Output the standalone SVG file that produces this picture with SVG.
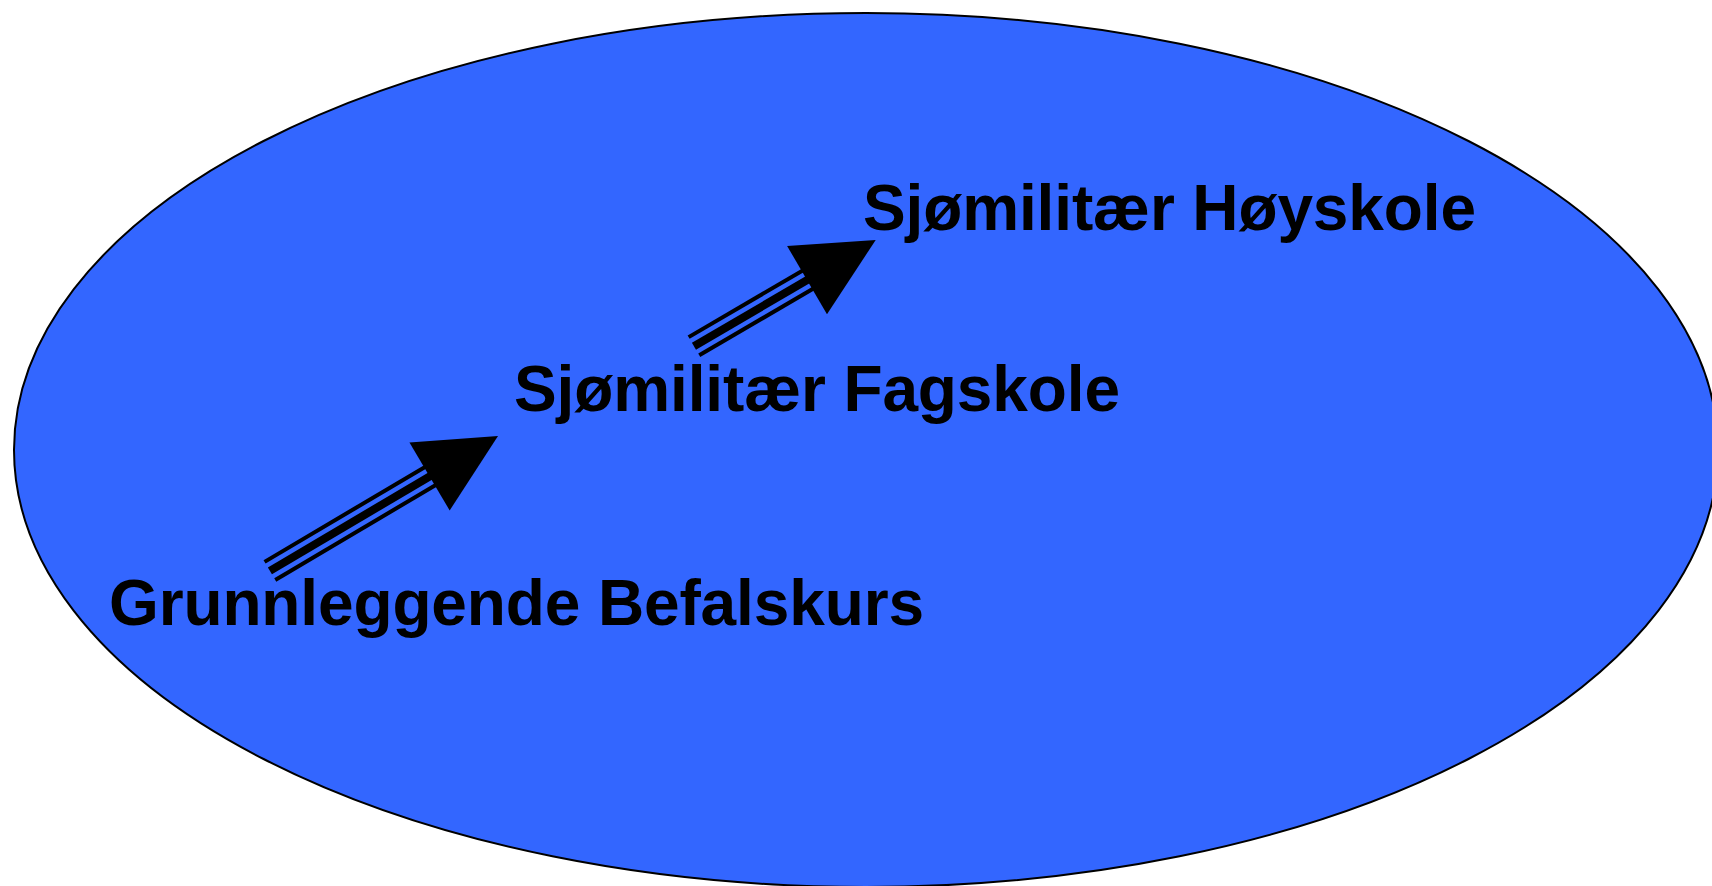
<svg xmlns="http://www.w3.org/2000/svg" width="1712" height="886" viewBox="0 0 1712 886">
<style>
.lbl{font-family:"Liberation Sans",Arial,sans-serif;font-weight:bold;font-size:64px;fill:#000}
.thin{stroke:#000;stroke-width:4;fill:none}
.thick{stroke:#000;stroke-width:8;fill:none}
.head{fill:#000}
</style>
<defs>
<g id="arrowBase">
<polygon class="head" points="0,0 -79.5,-39.5 -79.5,39.5"/>
</g>
</defs>
<g id="background">
<ellipse cx="866" cy="450" rx="852" ry="437" fill="#3366FF" stroke="#000" stroke-width="2"/>
</g>
<g id="connectors">
<g id="arrow1" transform="translate(498,436) rotate(-30.6)">
<line class="thin" x1="-265" y1="-10.5" x2="-50" y2="-10.5"/>
<line class="thick" x1="-265" y1="0" x2="-50" y2="0"/>
<line class="thin" x1="-265" y1="10.5" x2="-50" y2="10.5"/>
<use href="#arrowBase"/>
</g>
<g id="arrow2" transform="translate(875.7,240) rotate(-30.3)">
<line class="thin" x1="-210.5" y1="-10.5" x2="-50" y2="-10.5"/>
<line class="thick" x1="-210.5" y1="0" x2="-50" y2="0"/>
<line class="thin" x1="-210.5" y1="10.5" x2="-50" y2="10.5"/>
<use href="#arrowBase"/>
</g>
</g>
<g id="node-hoyskole">
<text class="lbl" x="863" y="230" textLength="613" lengthAdjust="spacing">Sjømilitær Høyskole</text>
</g>
<g id="node-fagskole">
<text class="lbl" x="514" y="411" textLength="606" lengthAdjust="spacing">Sjømilitær Fagskole</text>
</g>
<g id="node-befalskurs">
<text class="lbl" x="109" y="625" textLength="815" lengthAdjust="spacing">Grunnleggende Befalskurs</text>
</g>
</svg>
